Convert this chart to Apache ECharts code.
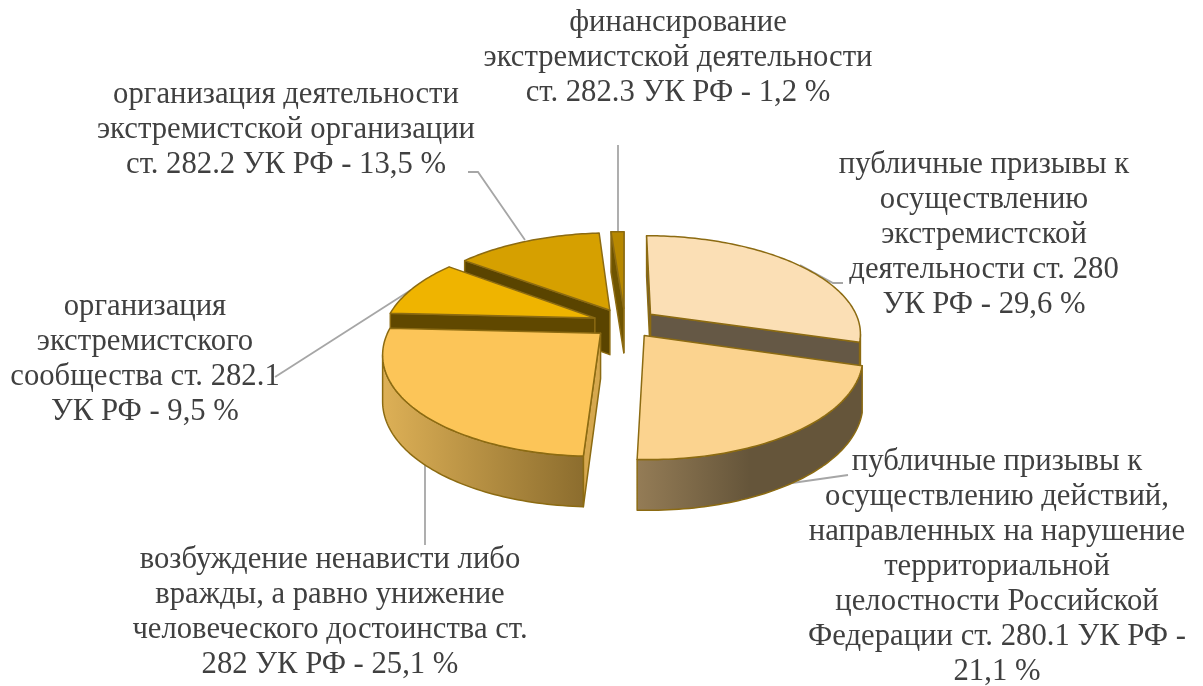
<!DOCTYPE html>
<html><head><meta charset="utf-8">
<style>html,body{margin:0;padding:0;background:#fff}#c{width:1203px;height:686px}</style>
<script src="https://cdn.jsdelivr.net/npm/echarts@6/dist/echarts.min.js"></script>
</head><body><div id="c"></div>
<script>
const categories = [
  "публичные призывы к\nосуществлению\nэкстремистской\nдеятельности ст. 280\nУК РФ - 29,6 %",
  "публичные призывы к\nосуществлению действий,\nнаправленных на нарушение\nтерриториальной\nцелостности Российской\nФедерации ст. 280.1 УК РФ -\n21,1 %",
  "возбуждение ненависти либо\nвражды, а равно унижение\nчеловеческого достоинства ст.\n282 УК РФ - 25,1 %",
  "организация\nэкстремистского\nсообщества ст. 282.1\nУК РФ - 9,5 %",
  "организация деятельности\nэкстремистской организации\nст. 282.2 УК РФ - 13,5 %",
  "финансирование\nэкстремистской деятельности\nст. 282.3 УК РФ - 1,2 %"
];
const values = [29.6, 21.1, 25.1, 9.5, 13.5, 1.2];

const topColors = ['#FBDFB5', '#FBD38F', '#FCC558', '#EFB400', '#D6A000', '#B78800'];
const cutColors = ['#655845', '#655845', '#D6A84E', '#604800', '#5A4400', '#6F5400'];
const rimColors = [['#655845', '#655845'], ['#947C56', '#65553A', '#65553A'], ['#DDB056', '#8C6D2E'], ['#604800', '#604800'], ['#5A4400', '#5A4400'], ['#6F5400', '#6F5400']];
const labelPos = [[984, 235], [997, 567], [330, 612], [145, 359], [286, 130], [678, 58]];
const leaders = [
  [[800, 265], [833, 283], [843, 283]],
  [[785, 484], [848, 475]],
  [[425, 460], [425, 545]],
  [[275, 377], [411, 290]],
  [[468, 172], [478, 172], [525, 240]],
  [[618, 145], [618, 232]]
];
const G = {cx: 625, cy: 323, A: 96, B: 209, k: 0.185, H: 45, k2: 0.1, explode: 0.155};
const STROKE = '#8C6B12';

const total = values.reduce((a, b) => a + b, 0);
const starts = []; values.reduce((acc, v, i) => { starts[i] = acc; return acc + v; }, 0);

function proj(u, v, low) {
  const w = 1 + G.k * v;
  return [G.cx + G.B * u / w, G.cy - G.A * v / w + (low ? G.H / (1 + G.k2 * v) : 0)];
}
function cross(a, b, c, d) { return (b[0] - a[0]) * (d[1] - c[1]) - (b[1] - a[1]) * (d[0] - c[0]); }

function renderItem(params, api) {
  const i = params.dataIndex, val = api.value(0);
  const a0 = starts[i] / total * 2 * Math.PI, a1 = (starts[i] + val) / total * 2 * Math.PI, mid = (a0 + a1) / 2;
  const ou = G.explode * Math.sin(mid), ov = G.explode * Math.cos(mid);
  const N = Math.max(4, Math.ceil((a1 - a0) / 0.02));
  const at = (a, low) => proj(ou + Math.sin(a), ov + Math.cos(a), low);
  const arc = [], arcLow = [];
  for (let n = 0; n <= N; n++) { const a = a0 + (a1 - a0) * n / N; arc.push(at(a)); arcLow.push(at(a, true)); }
  const apex = proj(ou, ov), apexLow = proj(ou, ov, true);
  const M = arc[Math.floor(N / 2)];
  const base = Math.round(-Math.cos(mid) * 100) * 4;
  const style = fill => ({fill, stroke: STROKE, lineWidth: 1.5, lineJoin: 'round'});
  const children = [];
  [0, N].forEach(n => {
    const P = arc[n];
    if (Math.sign(cross(apex, P, apex, M)) !== Math.sign(cross(apex, P, [0, 0], [0, 1]))) {
      children.push({type: 'polygon', z2: base, shape: {points: [apex, P, arcLow[n], apexLow]}, style: style(cutColors[i])});
    }
  });
  let vis = [];
  for (let n = 0; n < N; n++) if (arc[n + 1][0] < arc[n][0]) { if (!vis.length) vis.push(n); vis.push(n + 1); }
  if (vis.length > 1) {
    const pts = vis.map(n => arc[n]).concat(vis.map(n => arcLow[n]).reverse());
    const xs = pts.map(p => p[0]), x0 = Math.min(...xs), x1 = Math.max(...xs);
    const cols = rimColors[i];
    children.push({type: 'polygon', z2: base + 1, shape: {points: pts}, style: style(
      new echarts.graphic.LinearGradient(x0, 0, x1, 0, cols.map((c, j) => ({offset: j / (cols.length - 1), color: c})), true)
    )});
  }
  children.push({type: 'polygon', z2: base + 2, shape: {points: [apex].concat(arc)}, style: style(topColors[i])});
  return {type: 'group', children};
}

const chart = echarts.init(document.getElementById('c'));
chart.setOption({
  animation: false,
  backgroundColor: '#fff',
  graphic: {elements: [
    ...leaders.map(pts => ({type: 'polyline', z: 0, shape: {points: pts}, style: {fill: null, stroke: '#A6A6A6', lineWidth: 1.8}})),
    ...categories.map((t, i) => ({type: 'text', z: 5, x: labelPos[i][0], y: labelPos[i][1], style: {
      text: t, fill: '#404040', font: '30.7px "Liberation Serif"', lineHeight: 35, align: 'center', verticalAlign: 'middle'
    }}))
  ]},
  series: [{type: 'custom', coordinateSystem: 'none', silent: true, clip: false, z: 2,
    renderItem, data: values.map(v => [v])}]
});
</script></body></html>
